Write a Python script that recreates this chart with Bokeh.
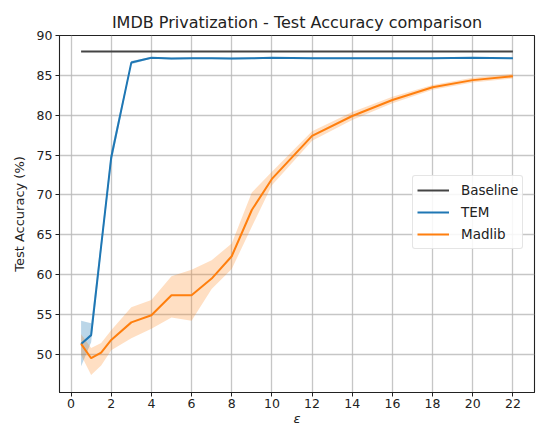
from bokeh.plotting import figure
from bokeh.models import ColumnDataSource, Legend, LegendItem, FixedTicker, Range1d
from bokeh.embed import file_html
from bokeh.resources import INLINE

# ---- data ----
eps = [0.5, 1, 1.5, 2, 3, 4, 5, 6, 7, 8, 9, 10, 12, 14, 16, 18, 20, 22]

baseline_eps = [0.5, 22]
baseline_acc = [88.0, 88.0]

tem_mean = [51.3, 52.4, 63.6, 74.7, 86.6, 87.2, 87.1, 87.15, 87.15, 87.1, 87.15, 87.2, 87.15, 87.15, 87.15, 87.15, 87.2, 87.15]
tem_lower = [48.5, 51.5, 62.8, 73.9, 86.4, 87.1, 87.0, 87.05, 87.05, 87.0, 87.05, 87.1, 87.05, 87.05, 87.05, 87.05, 87.1, 87.05]
tem_upper = [54.2, 53.9, 64.4, 75.5, 86.8, 87.3, 87.2, 87.25, 87.25, 87.2, 87.25, 87.3, 87.25, 87.25, 87.25, 87.25, 87.3, 87.25]

mad_mean = [51.3, 49.5, 50.2, 51.8, 54.0, 54.9, 57.4, 57.4, 59.5, 62.3, 68.1, 72.0, 77.4, 79.9, 81.9, 83.5, 84.4, 84.9]
mad_lower = [49.9, 47.4, 48.6, 50.5, 52.0, 53.2, 54.6, 54.2, 58.2, 60.7, 66.0, 71.2, 76.8, 79.4, 81.5, 83.2, 84.1, 84.6]
mad_upper = [52.5, 50.8, 51.4, 53.0, 55.9, 56.8, 59.8, 60.6, 61.8, 63.9, 70.3, 72.9, 78.0, 80.4, 82.3, 83.8, 84.7, 85.2]

x_ticks = [0, 2, 4, 6, 8, 10, 12, 14, 16, 18, 20, 22]
y_ticks = [50, 55, 60, 65, 70, 75, 80, 85, 90]

title_text = "IMDB Privatization - Test Accuracy comparison"
x_label = "ε"
y_label = "Test Accuracy (%)"

# ---- figure ----
FONT = "DejaVu Sans"
p = figure(width=540, height=429, output_backend="svg", toolbar_location=None,
           x_range=Range1d(-0.575, 23.075), y_range=Range1d(45.2, 90),
           title=title_text, min_border_left=59, min_border_right=6,
           min_border_top=35, min_border_bottom=37)

p.title.text_font = FONT
p.title.text_font_size = "16px"
p.title.text_font_style = "normal"
p.title.align = "center"
p.title.text_color = "#222222"
p.title.standoff = 7

p.outline_line_color = "#222222"
p.outline_line_width = 1.1
p.outline_line_alpha = 1.0

for ax in (p.xaxis[0], p.yaxis[0]):
    ax.major_label_text_font = FONT
    ax.major_label_text_font_size = "12.5px"
    ax.major_label_text_color = "#222222"
    ax.axis_label_text_font = FONT
    ax.axis_label_text_font_size = "13px"
    ax.axis_label_text_color = "#222222"
    ax.axis_label_text_font_style = "normal"
    ax.major_tick_out = 4
    ax.major_tick_in = 0
    ax.minor_tick_out = 0
    ax.minor_tick_in = 0
    ax.axis_line_color = "#222222"
    ax.major_tick_line_color = "#222222"
    ax.major_label_standoff = 3

p.xaxis[0].ticker = FixedTicker(ticks=x_ticks)
p.yaxis[0].ticker = FixedTicker(ticks=y_ticks)
p.xaxis[0].axis_label = x_label
p.xaxis[0].axis_label_text_font_style = "italic"
p.xaxis[0].axis_label_standoff = 0
p.xaxis[0].major_label_standoff = 2
p.yaxis[0].axis_label = y_label
p.yaxis[0].axis_label_standoff = 7

p.xgrid.ticker = FixedTicker(ticks=x_ticks)
p.ygrid.ticker = FixedTicker(ticks=y_ticks)
p.grid.grid_line_color = "#b8b8b8"
p.grid.grid_line_width = 1.3
p.grid.grid_line_alpha = 0.8

src = ColumnDataSource(dict(eps=eps, tem_mean=tem_mean, tem_lower=tem_lower, tem_upper=tem_upper,
                            mad_mean=mad_mean, mad_lower=mad_lower, mad_upper=mad_upper))

p.varea(x="eps", y1="tem_lower", y2="tem_upper", source=src, fill_color="#1f77b4", fill_alpha=0.3)
p.varea(x="eps", y1="mad_lower", y2="mad_upper", source=src, fill_color="#ff7f0e", fill_alpha=0.25)

r_base = p.line(baseline_eps, baseline_acc, line_color="#444444", line_width=2)
r_tem = p.line(x="eps", y="tem_mean", source=src, line_color="#1f77b4", line_width=2)
r_mad = p.line(x="eps", y="mad_mean", source=src, line_color="#ff7f0e", line_width=2)

legend = Legend(items=[LegendItem(label="Baseline", renderers=[r_base]),
                       LegendItem(label="TEM", renderers=[r_tem]),
                       LegendItem(label="Madlib", renderers=[r_mad])],
                location=(353, 143))
legend.label_text_font = FONT
legend.label_text_font_size = "13.5px"
legend.label_text_color = "#222222"
legend.glyph_width = 32
legend.glyph_height = 20
legend.label_height = 20
legend.label_standoff = 12
legend.spacing = 2
legend.padding = 4
legend.margin = 0
legend.border_line_color = "#cccccc"
legend.border_line_width = 1
legend.border_radius = 3
legend.background_fill_alpha = 0.85
p.add_layout(legend)

open("out.html", "w").write(file_html(p, INLINE))
